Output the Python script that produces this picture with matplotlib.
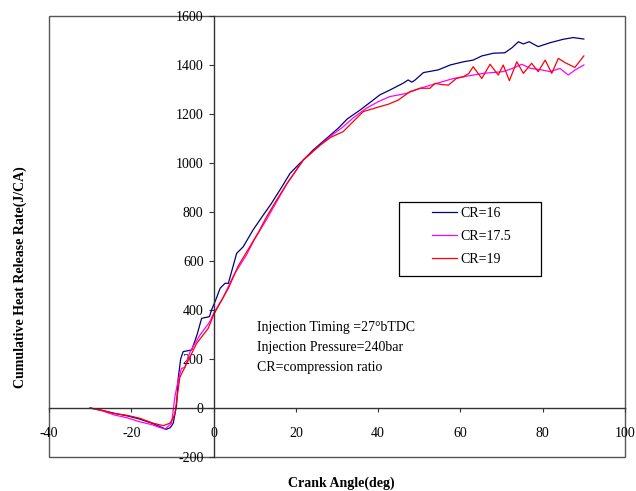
import numpy as np
import matplotlib
matplotlib.use('Agg')
import matplotlib.pyplot as plt
from matplotlib.patches import Rectangle

plt.rcParams['font.family'] = 'Liberation Serif'
plt.rcParams['font.size'] = 10
plt.rcParams['axes.unicode_minus'] = False

# Cumulative heat release, read per series (crank angle deg, J/CA)
cr16_angle = [-30, -27, -24, -21, -18, -15, -13, -11.5, -10.5, -9.8, -9, -8.6,
              -8, -7.4, -5.3, -4, -2.9, -1, -0.5, 0.5, 1.6, 2.8, 3.6, 5.6, 7.2,
              9.6, 12.1, 14.1, 16.5, 18.6, 21, 24.2, 27.5, 30.3, 32.5, 35.6,
              38.8, 40.4, 42.5, 44.5, 46, 47.3, 48.2, 49, 51, 54.6, 57.5, 60.7,
              63.1, 65.2, 68, 70.8, 72.5, 74.1, 75.3, 76.7, 78.9, 81.8, 85,
              87.4, 90]
cr16_heat = [0, -10, -22, -32, -45, -62, -76, -87, -80, -62, 10, 120,
             200, 230, 237, 300, 366, 373, 400, 440, 489, 509, 509, 631, 658,
             727, 788, 836, 900, 958, 999, 1053, 1101, 1142, 1180, 1216,
             1257, 1278, 1295, 1312, 1325, 1339, 1330, 1339, 1369, 1380, 1400,
             1413, 1420, 1437, 1448, 1450, 1470, 1495, 1486, 1495, 1475, 1491,
             1505, 1512, 1506]

cr175_angle = [-30, -27, -24, -21, -18, -15, -13, -11.8, -10.2, -9.4, -8.6,
               -7.8, -7, -5.7, -3.3, -0.9, 0, 2.4, 5, 8, 10, 12.9, 17.8, 21.8,
               25.9, 28.5, 31.5, 34, 37.1, 40, 42.8, 46.9, 50.2, 54.2, 58.3,
               60.7, 65.6, 70.4, 72.5, 74.9, 76.9, 79.7, 81.8, 84.2, 86.2,
               87.9, 90]
cr175_heat = [0, -12, -29, -40, -56, -68, -80, -86, -62, 46, 114,
              162, 165, 230, 298, 352, 386, 454, 545, 625, 690, 770, 915, 1012,
              1073, 1110, 1148, 1185, 1223, 1250, 1271, 1284, 1305, 1325, 1345,
              1352, 1366, 1373, 1385, 1403, 1387, 1380, 1373, 1386, 1359,
              1380, 1400]

cr19_angle = [-30, -27, -24.4, -21, -17.9, -14.7, -12.2, -10.6, -9.8, -9.4,
              -8.2, -6.1, -4.1, -1.3, 0, 3.6, 6, 8.8, 11, 12.9, 15, 17.8, 21.8,
              25.9, 28.5, 31.5, 34, 36.4, 40.4, 42.5, 44.9, 47.7, 50.2, 52.6,
              53.8, 55.5, 57.1, 59, 60.7, 62, 63.1, 65.2, 67.2, 69.2, 70.4,
              71.9, 73.7, 75.3, 77.3, 78.9, 80.6, 82.2, 83.8, 85.4, 87.8, 90]
cr19_heat = [0, -10, -22, -30, -42, -62, -72, -62, -40, -22,
             125, 196, 264, 325, 380, 489, 580, 658, 720, 781, 840, 915, 1012,
             1073, 1105, 1128, 1170, 1210, 1230, 1240, 1257, 1291, 1305, 1305,
             1325, 1320, 1318, 1345, 1352, 1365, 1393, 1345, 1403, 1359, 1400,
             1336, 1413, 1366, 1407, 1373, 1420, 1366, 1427, 1410, 1390, 1437]

x_ticks = np.arange(-40, 101, 20)
y_ticks = np.arange(-200, 1601, 200)
note_lines = ['Injection Timing =27°bTDC', 'Injection Pressure=240bar',
              'CR=compression ratio']

fig = plt.figure(figsize=(6.36, 4.91), dpi=100)
ax = fig.add_axes([49 / 636, 34 / 491, 576 / 636, 441 / 491])

ax.plot(cr16_angle, cr16_heat, color='#000080', linewidth=0.9, label='CR=16')
ax.plot(cr175_angle, cr175_heat, color='#ff00ff', linewidth=0.9, label='CR=17.5')
ax.plot(cr19_angle, cr19_heat, color='#ff0000', linewidth=0.9, label='CR=19')

ax.set_xlim(-40, 100)
ax.set_ylim(-200, 1600)
ax.set_xticks(x_ticks)
ax.set_yticks(y_ticks)

# Axes cross at the origin, outer frame drawn separately
ax.spines['left'].set_position(('data', 0))
ax.spines['bottom'].set_position(('data', 0))
for side in ('left', 'bottom'):
    ax.spines[side].set_color('#333333')
    ax.spines[side].set_linewidth(1.0)
for side in ('top', 'right'):
    ax.spines[side].set_visible(False)
ax.add_patch(Rectangle((0, 0), 1, 1, transform=ax.transAxes, fill=False,
                       edgecolor='#555555', linewidth=1.0, clip_on=False,
                       zorder=0.5))

ax.tick_params(axis='y', direction='out', length=3.6, width=0.8, pad=3.6,
               colors='#333333', labelcolor='black')
ax.tick_params(axis='x', direction='out', length=3, width=0.8, pad=10.5,
               colors='#333333', labelcolor='black')

for i, line in enumerate(note_lines):
    ax.text(10.5, 330 - 82 * i, line, va='center', ha='left')

# Legend with its own square box
fig.add_artist(Rectangle((399 / 636, 1 - 276 / 491), 142 / 636, 74 / 491,
                         transform=fig.transFigure, fill=False,
                         edgecolor='black', linewidth=0.9))
fig.legend(loc='upper left', bbox_to_anchor=(432 / 636, 1 - 207 / 491),
           frameon=False, borderpad=0, borderaxespad=0, handlelength=1.8,
           handletextpad=0.25, labelspacing=0.72)

fig.text(20 / 636, 1 - 277 / 491, 'Cumulative Heat Release Rate(J/CA)',
         rotation=90, ha='center', va='center', fontweight='bold')
fig.text(341 / 636, 1 - 483 / 491, 'Crank Angle(deg)', ha='center',
         va='center', fontweight='bold')

fig.savefig('out.png', dpi=100)
